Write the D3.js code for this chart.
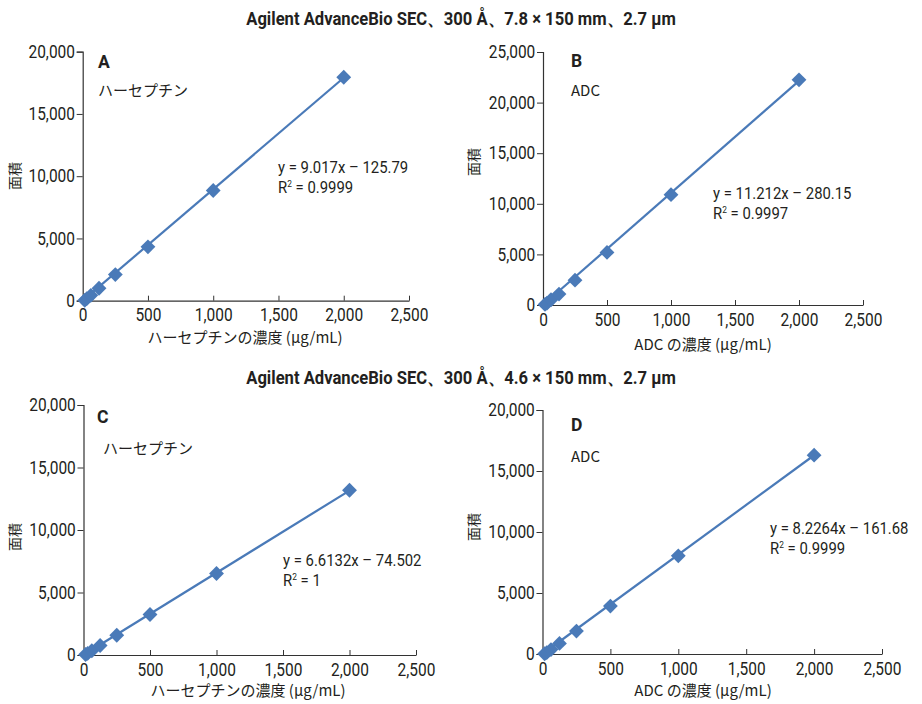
<!DOCTYPE html>
<html>
<head>
<meta charset="utf-8">
<script src="https://cdn.jsdelivr.net/npm/d3@7"></script>
<style>
  body { margin: 0; background: #fff; }
  svg text { fill: #231f20; }
  .num { font-family: "Roboto", "Liberation Sans", sans-serif; }
  .jp { font-family: "Noto Sans CJK JP", sans-serif; }
</style>
</head>
<body>
<div id="root"></div>
<script>
// concentrations (µg/mL), same dilution series for all panels
const conc = [15.625, 31.25, 62.5, 125, 250, 500, 1000, 2000];

// peak areas
const areaA = [30, 160, 430, 1000, 2100, 4330, 8850, 17950];
const areaB = [60, 180, 520, 1080, 2450, 5200, 10900, 22250];
const areaC = [40, 130, 340, 760, 1580, 3240, 6520, 13180];
const areaD = [20, 110, 360, 870, 1880, 3930, 8050, 16300];

// regression text + coefficients
const fitSlope = [9.017, 11.212, 6.6132, 8.2264];
const fitIntercept = [-125.79, -280.15, -74.502, -161.68];
const eqLabels = ["y = 9.017x – 125.79", "y = 11.212x – 280.15", "y = 6.6132x – 74.502", "y = 8.2264x – 161.68"];
const r2Values = ["0.9999", "0.9997", "1", "0.9999"];

const panelLetters = ["A", "B", "C", "D"];
const sampleNames = ["ハーセプチン", "ADC", "ハーセプチン", "ADC"];
const xTitles = ["ハーセプチンの濃度 (µg/mL)", "ADC の濃度 (µg/mL)", "ハーセプチンの濃度 (µg/mL)", "ADC の濃度 (µg/mL)"];
const yTitle = "面積";
const yMax = [20000, 25000, 20000, 20000];
const xTicks = [0, 500, 1000, 1500, 2000, 2500];

const titles = [
  "Agilent AdvanceBio SEC、300 Å、7.8 × 150 mm、2.7 µm",
  "Agilent AdvanceBio SEC、300 Å、4.6 × 150 mm、2.7 µm"
];

const color = "#4a7ab8";
const squeeze = 0.86; // fake a condensed face

// layout of each panel (plot box in page pixels)
const boxes = [
  { x0: 82.7, x1: 409, y0: 300.7, y1: 51.7, letter: [98, 68], name: [98, 96], eq: [278, 173], yt: [20, 176], xt: [245, 343] },
  { x0: 543, x1: 863, y0: 305, y1: 52, letter: [571, 67], name: [571, 96], eq: [713, 199], yt: [479, 162], xt: [703, 350] },
  { x0: 83.5, x1: 416, y0: 655, y1: 405, letter: [97, 423], name: [103, 454], eq: [283, 566], yt: [20, 537], xt: [248, 696] },
  { x0: 542.5, x1: 882, y0: 654, y1: 410, letter: [571, 431], name: [571, 462], eq: [770, 534], yt: [479, 527], xt: [703, 696] }
];

const areas = [areaA, areaB, areaC, areaD];

const svg = d3.select("#root").append("svg")
  .attr("width", 922).attr("height", 704);

// condensed text placed at (x, y)
function ctext(sel, x, y, anchor, k) {
  return sel.append("g").attr("transform", `translate(${x},${y}) scale(${k || squeeze},1)`)
    .append("text").attr("class", "num").attr("text-anchor", anchor || "start");
}

titles.forEach((t, i) => {
  ctext(svg, 461, i === 0 ? 25 : 384, "middle", 0.95)
    .attr("font-size", 17.5).attr("font-weight", "bold").text(t);
});

boxes.forEach((b, i) => {
  const x = d3.scaleLinear().domain([0, 2500]).range([b.x0, b.x1]);
  const y = d3.scaleLinear().domain([0, yMax[i]]).range([b.y0, b.y1]);
  const g = svg.append("g");

  // y axis
  const ya = g.append("g")
    .attr("transform", `translate(${b.x0},0)`)
    .call(d3.axisLeft(y).tickValues(d3.range(0, yMax[i] + 1, 5000)).tickFormat(d3.format(",")).tickSize(6).tickPadding(3));
  ya.select(".domain").attr("stroke", "#333").attr("stroke-width", 1.2);
  ya.selectAll(".tick line").attr("stroke", "#333");
  ya.selectAll(".tick text").attr("class", "num").attr("font-size", 18).attr("fill", "#231f20")
    .attr("transform", `scale(${squeeze},1)`);

  // x axis (ticks point inward)
  const xa = g.append("g")
    .attr("transform", `translate(0,${b.y0})`)
    .call(d3.axisBottom(x).tickValues(xTicks).tickFormat(d3.format(",")).tickSizeInner(-5).tickSizeOuter(0).tickPadding(8));
  xa.select(".domain").attr("stroke", "#333").attr("stroke-width", 1.2);
  xa.selectAll(".tick line").attr("stroke", "#333");
  xa.selectAll(".tick text").attr("class", "num").attr("font-size", 18).attr("fill", "#231f20")
    .attr("transform", `scale(${squeeze},1)`);

  // trend line
  const xs = d3.extent(conc);
  g.append("line")
    .attr("x1", x(0)).attr("y1", y(Math.max(0, fitIntercept[i])))
    .attr("x2", x(xs[1])).attr("y2", y(fitSlope[i] * xs[1] + fitIntercept[i]))
    .attr("stroke", color).attr("stroke-width", 2.2);

  // points
  g.selectAll("path.pt")
    .data(conc.map((c, k) => [c, areas[i][k]]))
    .join("path")
    .attr("class", "pt")
    .attr("d", d3.symbol(d3.symbolDiamond2, 140))
    .attr("transform", d => `translate(${x(d[0])},${y(d[1])})`)
    .attr("fill", color);

  // labels
  ctext(g, b.letter[0], b.letter[1], "start", 0.95)
    .attr("font-size", 18.5).attr("font-weight", "bold").text(panelLetters[i]);
  g.append("text").attr("class", "jp")
    .attr("x", b.name[0]).attr("y", b.name[1])
    .attr("font-size", 15).text(sampleNames[i]);

  ctext(g, b.eq[0], b.eq[1], "start", 0.93).attr("font-size", 16).text(eqLabels[i]);
  const r2 = ctext(g, b.eq[0], b.eq[1] + 19.5, "start", 0.93).attr("font-size", 16);
  r2.append("tspan").text("R");
  r2.append("tspan").attr("font-size", 9).attr("dy", -6).text("2");
  r2.append("tspan").attr("dy", 6).text(" = " + r2Values[i]);

  g.append("text").attr("class", "jp")
    .attr("transform", `translate(${b.yt[0]},${b.yt[1]}) rotate(-90)`)
    .attr("text-anchor", "middle")
    .attr("font-size", 14).text(yTitle);
  g.append("text").attr("class", "jp")
    .attr("x", b.xt[0]).attr("y", b.xt[1])
    .attr("text-anchor", "middle")
    .attr("font-size", 15).text(xTitles[i]);
});
</script>
</body>
</html>
